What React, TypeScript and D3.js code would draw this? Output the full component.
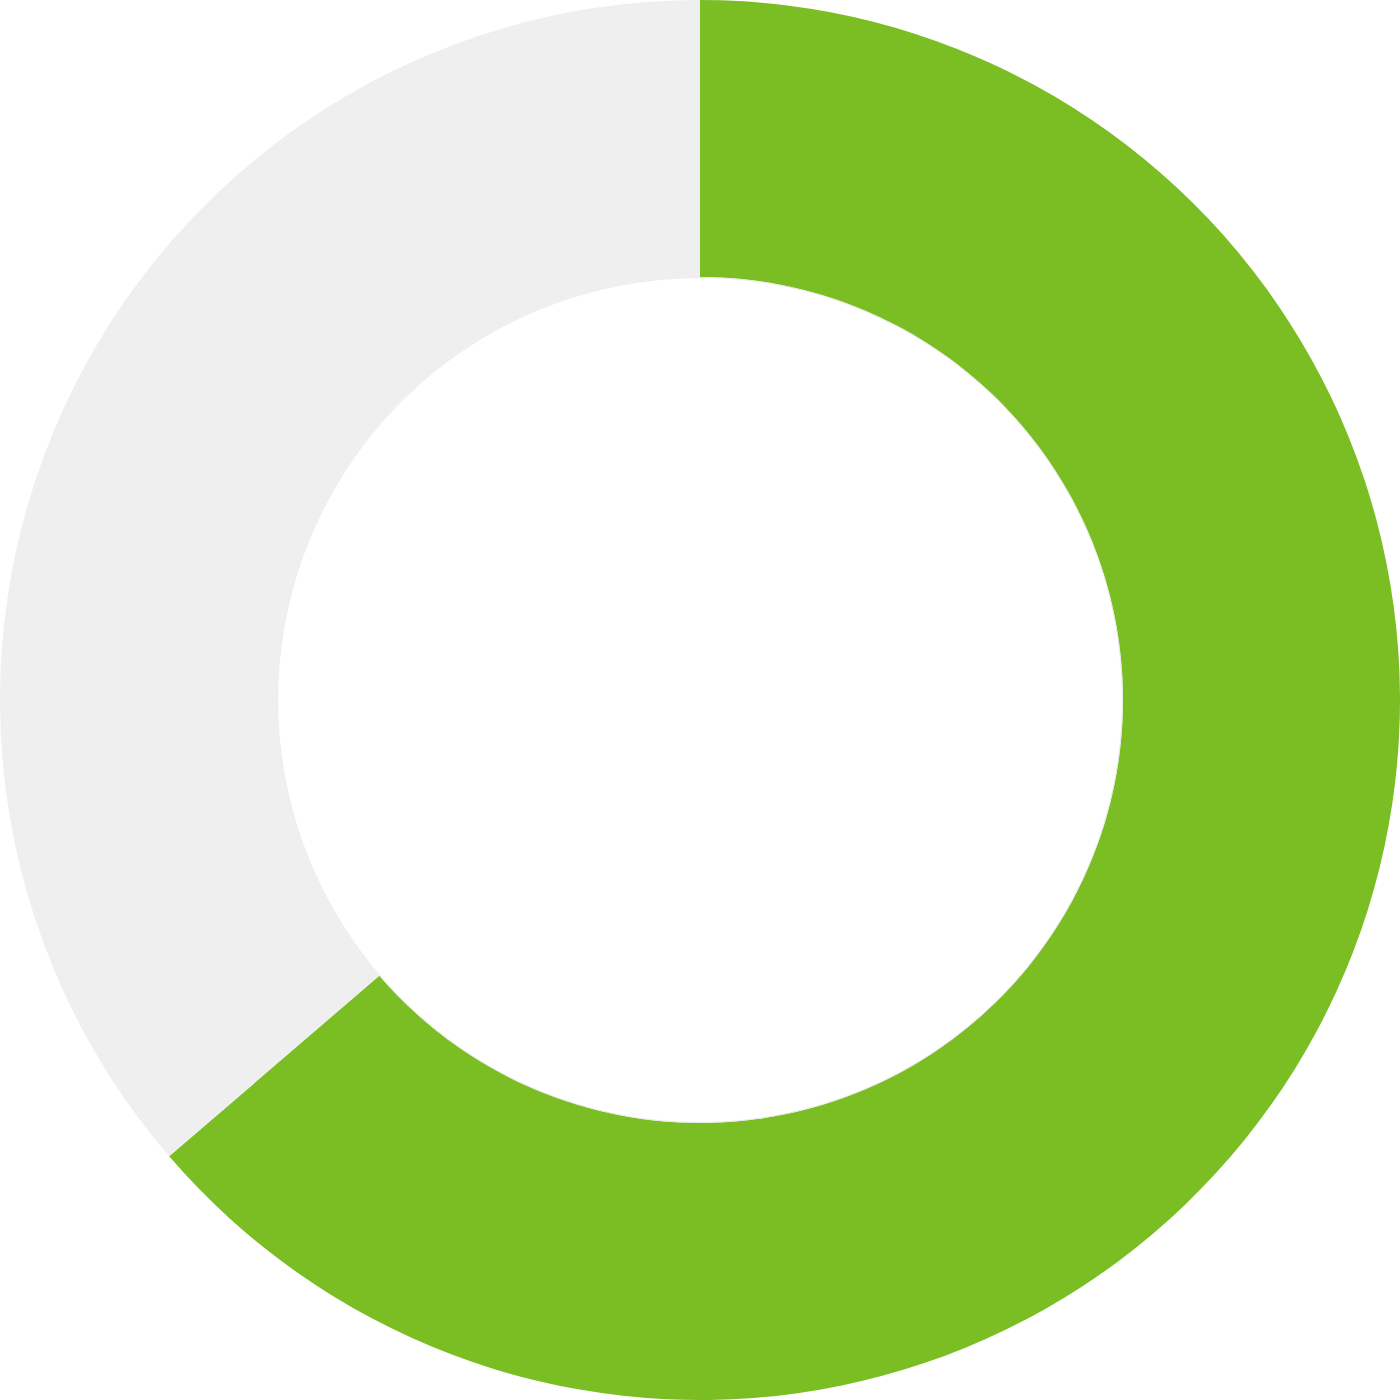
import * as d3 from 'd3';
import { useEffect, useRef } from 'react';

const SIZE = 1400;
const CATEGORIES = ['Done', 'Remaining'];
const VALUES = [63.7, 36.3];
const COLORS = ['#7bbe24', '#efefef'];

const App: React.FC = () => {
    const svgRef = useRef<SVGSVGElement>(null);

    useEffect(() => {
        if (!svgRef.current) return;
        const outerRadius = SIZE / 2;
        const innerRadius = 423;

        const svg = d3.select(svgRef.current).attr('width', SIZE).attr('height', SIZE);
        svg.selectAll('*').remove();
        const g = svg.append('g').attr('transform', `translate(${SIZE / 2},${SIZE / 2})`);

        const pie = d3
            .pie<number>()
            .sort(null)
            .value((d) => d);
        const arc = d3.arc<d3.PieArcDatum<number>>().innerRadius(innerRadius).outerRadius(outerRadius);
        const color = d3.scaleOrdinal<string, string>().domain(CATEGORIES).range(COLORS);

        g.selectAll('path')
            .data(pie(VALUES))
            .enter()
            .append('path')
            .attr('d', arc)
            .attr('fill', (_d, i) => color(CATEGORIES[i]));

        // faint edge along the hole
        g.append('circle')
            .attr('r', innerRadius - 0.5)
            .attr('fill', 'none')
            .attr('stroke', '#e4e4e4')
            .attr('stroke-width', 0.8);
    }, []);

    return (
        <div style={{ position: 'absolute', top: 0, left: 0 }}>
            <svg ref={svgRef} width={SIZE} height={SIZE} style={{ display: 'block' }}></svg>
        </div>
    );
};

export default App;
